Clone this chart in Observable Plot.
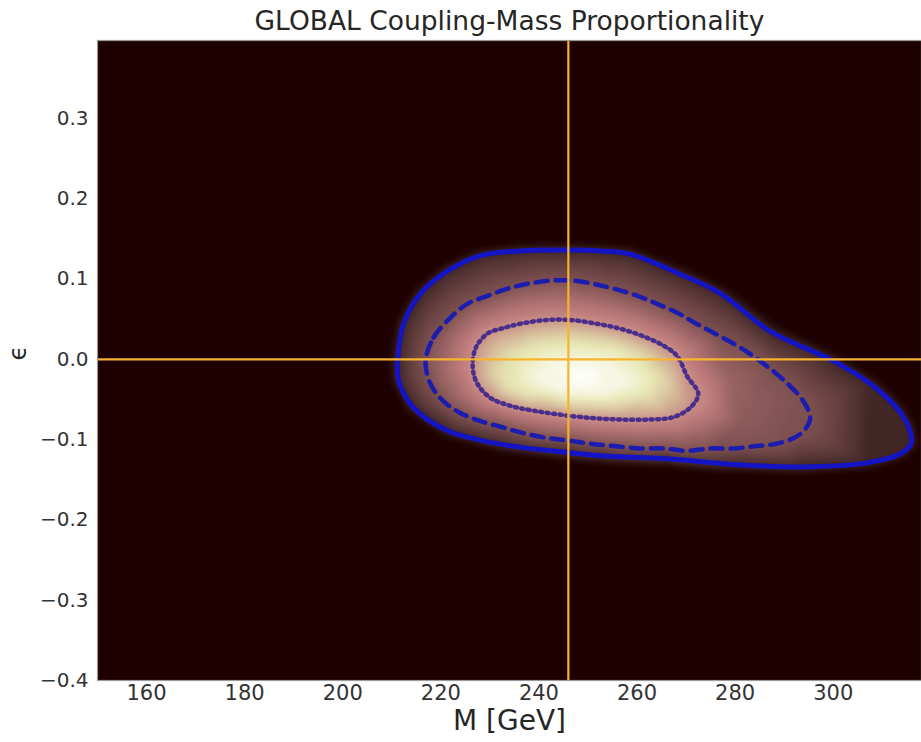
<!DOCTYPE html>
<html>
<head>
<meta charset="utf-8">
<script src="https://cdn.jsdelivr.net/npm/d3@7"></script>
<script src="https://cdn.jsdelivr.net/npm/@observablehq/plot@0.6"></script>
<style>
  html, body { margin: 0; padding: 0; background: #ffffff; }
  #chart svg { display: block; }
</style>
</head>
<body>
<div id="chart"></div>
<script>
// ---------- text ----------
const title = "GLOBAL Coupling-Mass Proportionality";
const xLabel = "M [GeV]";
const yLabel = "ϵ";

// ---------- axes ----------
const xTicks = [160, 180, 200, 220, 240, 260, 280, 300];
const yTicks = [-0.4, -0.3, -0.2, -0.1, 0.0, 0.1, 0.2, 0.3];
const xDomain = [150, 318];
const yDomain = [-0.4, 0.397];

// ---------- reference lines ----------
const referenceMass = [246];
const referenceEps = [0];

// ---------- contours [M, eps] ----------
const contourSolid = [
  [211.2, -0.002], [212.4, 0.044], [215.9, 0.082], [221.4, 0.110], [228.1, 0.129],
  [236.2, 0.135], [245.8, 0.136], [252.5, 0.135], [258.6, 0.131], [268.8, 0.106],
  [277.0, 0.082], [287.1, 0.035], [300.0, -0.002], [307.5, -0.030], [312.6, -0.058],
  [315.3, -0.083], [315.9, -0.105], [313.6, -0.118], [306.9, -0.129], [293.3, -0.134],
  [279.6, -0.131], [266.2, -0.124], [252.5, -0.120], [245.8, -0.116], [231.5, -0.105],
  [221.4, -0.089], [214.4, -0.060], [211.4, -0.027]
];
const contourDashed = [
  [216.9, -0.002], [218.5, 0.027], [222.0, 0.052], [225.4, 0.069], [229.5, 0.079],
  [233.6, 0.088], [237.7, 0.094], [242.3, 0.098], [247.0, 0.098], [251.1, 0.094],
  [255.2, 0.088], [260.1, 0.079], [264.1, 0.069], [268.2, 0.058], [271.9, 0.045],
  [275.9, 0.032], [280.4, 0.017], [283.7, 0.004], [287.6, -0.014], [290.8, -0.031],
  [293.9, -0.052], [295.3, -0.074], [293.3, -0.093], [289.2, -0.104], [284.5, -0.108],
  [279.6, -0.111], [274.9, -0.111], [270.2, -0.114], [265.4, -0.111], [260.7, -0.111],
  [255.2, -0.108], [250.5, -0.105], [245.8, -0.101], [241.7, -0.098], [236.8, -0.092],
  [232.8, -0.085], [228.1, -0.077], [224.0, -0.067], [220.5, -0.052], [217.9, -0.031]
];
const contourDotted = [
  [226.5, -0.011], [227.1, 0.014], [229.5, 0.032], [232.8, 0.039], [236.8, 0.045],
  [241.7, 0.049], [246.4, 0.049], [251.1, 0.045], [256.0, 0.039], [260.7, 0.030],
  [265.4, 0.017], [268.2, 0.004], [270.2, -0.021], [272.5, -0.043], [270.9, -0.060],
  [267.4, -0.072], [262.7, -0.075], [256.6, -0.075], [250.5, -0.073], [244.4, -0.069],
  [238.9, -0.064], [234.2, -0.058], [230.1, -0.048], [227.5, -0.031]
];

// ---------- density brightness samples (colormap position) ----------
const haloRing = [
  [209.6, -0.002], [210.9, 0.048], [214.6, 0.088], [220.5, 0.118], [227.7, 0.138],
  [236.0, 0.144], [245.8, 0.145], [252.5, 0.144], [259.0, 0.140], [269.8, 0.114],
  [278.1, 0.090], [288.3, 0.043], [301.0, 0.005], [308.8, -0.024], [314.0, -0.055],
  [316.8, -0.082], [317.4, -0.106], [314.6, -0.124], [307.3, -0.137], [293.3, -0.143],
  [279.6, -0.140], [266.1, -0.133], [252.4, -0.129], [245.6, -0.125], [231.2, -0.114],
  [220.6, -0.097], [213.1, -0.065], [209.8, -0.028]
];
const innerRing = [
  [232.5, -0.020], [235.0, 0.005], [240.0, 0.018], [247.0, 0.022], [255.0, 0.016],
  [261.0, 0.000], [264.0, -0.025], [262.0, -0.045], [255.0, -0.054], [246.0, -0.053],
  [238.0, -0.045], [234.0, -0.035]
];
const coreRing = [
  [240.0, -0.020], [243.0, -0.005], [249.0, -0.002], [255.0, -0.012], [258.0, -0.030],
  [253.0, -0.042], [246.0, -0.041], [241.0, -0.033]
];
const peak = [[248.0, -0.022]];
const lobeSamples = [[283.0, -0.050, 0.2], [279.0, -0.025, 0.23], [281.0, -0.080, 0.19]];
const frameCorners = [
  [150, -0.4], [234, -0.4], [318, -0.4], [150, 0.397], [234, 0.397], [318, 0.397],
  [150, 0.0], [318, 0.2], [318, -0.25]
];

const levelHalo = 0, levelSolid = 0.035, levelDashed = 0.15, levelDotted = 0.42;
const levelInner = 0.72, levelCore = 0.9, levelPeak = 1.0;

// ---------- colormap stops (matplotlib "pink") ----------
const cmapStops = [0, 0.02, 0.05, 0.1, 0.15, 0.2, 0.3, 0.365, 0.45, 0.55, 0.65, 0.746, 0.85, 1];
const cmapColors = [
  "#1e0000", "#361d1d", "#4d2f2f", "#694242", "#7e5151", "#915d5d", "#b07272",
  "#c27e7e", "#cb9c8c", "#d5b99a", "#dfd3a8", "#e8e8b4", "#f2f2d6", "#ffffff"
];

// ---------- build table ----------
const samples = [];
const addRing = (ring, t) => ring.forEach(([m, e]) => samples.push({m, e, t}));
addRing(frameCorners, levelHalo);
addRing(haloRing, levelHalo);
addRing(contourSolid, levelSolid);
addRing(contourDashed, levelDashed);
addRing(contourDotted, levelDotted);
addRing(innerRing, levelInner);
addRing(coreRing, levelCore);
addRing(peak, levelPeak);
lobeSamples.forEach(([m, e, t]) => samples.push({m, e, t}));

const lineData = (ring) => ring.map(([m, e]) => ({m, e}));

const chart = Plot.plot({
  width: 921,
  height: 742,
  marginLeft: 97,
  marginRight: 0,
  marginTop: 40,
  marginBottom: 62,
  style: {fontFamily: "DejaVu Sans, sans-serif", background: "#ffffff"},
  x: {domain: xDomain},
  y: {domain: yDomain},
  color: {type: "linear", domain: cmapStops, range: cmapColors, clamp: true},
  marks: [
    Plot.frame({fill: cmapColors[0]}),
    Plot.raster(samples, {
      x: "m", y: "e", fill: "t",
      interpolate: "barycentric", blur: 3,
      x1: xDomain[0], x2: xDomain[1], y1: yDomain[0], y2: yDomain[1],
      pixelSize: 1, clip: true
    }),
    Plot.line(lineData(contourSolid), {
      x: "m", y: "e", curve: "catmull-rom-closed",
      stroke: "#1414c4", strokeWidth: 5, clip: true
    }),
    Plot.line(lineData(contourDashed), {
      x: "m", y: "e", curve: "catmull-rom-closed",
      stroke: "#1c1cb0", strokeWidth: 4.5, strokeDasharray: "12,8", clip: true
    }),
    Plot.line(lineData(contourDotted), {
      x: "m", y: "e", curve: "catmull-rom-closed",
      stroke: "#4b2d8c", strokeWidth: 4.5, strokeDasharray: "2,4.5", clip: true
    }),
    Plot.ruleX(referenceMass, {stroke: "#f6b42c", strokeWidth: 2.2}),
    Plot.ruleY(referenceEps, {stroke: "#f6b42c", strokeWidth: 2.2}),
    Plot.frame({stroke: "#9a9a9a", strokeWidth: 1.2}),
    Plot.axisX({ticks: xTicks, tickSize: 0, tickPadding: 5, fontSize: 21, fill: "#333333", label: null, tickFormat: d => String(d)}),
    Plot.axisY({ticks: yTicks, tickSize: 0, tickPadding: 9, fontSize: 20, fill: "#333333", label: null, tickFormat: d3.format(".1f")}),
    Plot.text([title], {text: d => d, frameAnchor: "top", dy: -29, fontSize: 26.5, fill: "#262626"}),
    Plot.text([xLabel], {text: d => d, frameAnchor: "bottom", dy: 49, fontSize: 28, fill: "#262626"}),
    Plot.text([yLabel], {text: d => d, frameAnchor: "left", dx: -79, rotate: -90, fontSize: 24, fill: "#262626"})
  ]
});
document.getElementById("chart").appendChild(chart);
</script>
</body>
</html>
